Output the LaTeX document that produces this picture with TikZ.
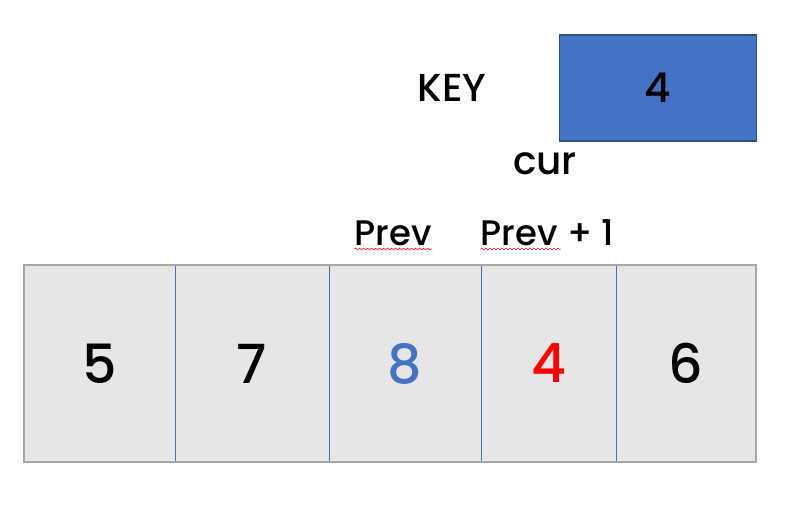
\documentclass[tikz,border=0pt]{standalone}
\usepackage{fontspec}
\setmainfont{Poppins}[UprightFont={* Medium}]
\usetikzlibrary{positioning,calc,decorations.pathmorphing}
\definecolor{keyblue}{HTML}{4472C4}
\definecolor{keyedge}{HTML}{2F528F}
\definecolor{cellgray}{HTML}{E6E6E6}
\definecolor{rimgray}{HTML}{A6A6A6}

\begin{document}
\begin{tikzpicture}[
      x=1pt, y=-1pt,
      cell/.style  ={rectangle, fill=cellgray, draw=keyblue, line width=0.8pt,
                     minimum height=197pt, inner sep=0pt, outer sep=0pt,
                     font=\fontsize{54}{54}\selectfont},
      keybox/.style={rectangle, fill=keyblue, draw=keyedge, line width=1.2pt,
                     minimum width=197pt, minimum height=106pt, inner sep=0pt,
                     font=\fontsize{41}{41}\selectfont},
      lbl/.style   ={inner sep=0pt, font=\fontsize{39}{39}\selectfont},
      ptr/.style   ={inner sep=0pt, font=\fontsize{35.5}{35.5}\selectfont},
      spell/.style ={draw=red, line width=0.5pt, decorate,
                     decoration={snake, amplitude=0.9pt, segment length=4pt}}
    ]
    \useasboundingbox (0,0) rectangle (799,506);

    % the array
    \node[cell, minimum width=151pt] (c1) at (99.5,363.5) {5};
    \node[cell, minimum width=154pt] (c2) at (252,363.5) {7};
    \node[cell, minimum width=152pt, text=keyblue] (c3) at (405,363.5) {8};
    \node[cell, minimum width=135pt, text=red] (c4) at (548.5,363.5) {4};
    \node[cell, minimum width=140pt] (c5) at (686,363.5) {6};
    \draw[rimgray, line width=1.2pt] (c1.north west) rectangle (c5.south east);

    % key and its labels
    \node[keybox] (key) at (658,88) {4};
    \node[lbl] (keylbl) at (452,88) {KEY};
    \node[lbl, anchor=base] (cur) at (545,174) {cur};

    \node[ptr, anchor=base] (prev) at (393,245) {Prev};
    \node[ptr, anchor=base] (next) at (547.5,245) {Prev + 1};

    \coordinate (next_end) at ($(next.base west)!0.6!(next.base east)$);
    \draw[spell] ([yshift=-4pt]prev.base west) -- ([yshift=-4pt]prev.base east);
    \draw[spell] ([yshift=-4pt]next.base west) -- ([yshift=-4pt]next_end);
\end{tikzpicture}
\end{document}
